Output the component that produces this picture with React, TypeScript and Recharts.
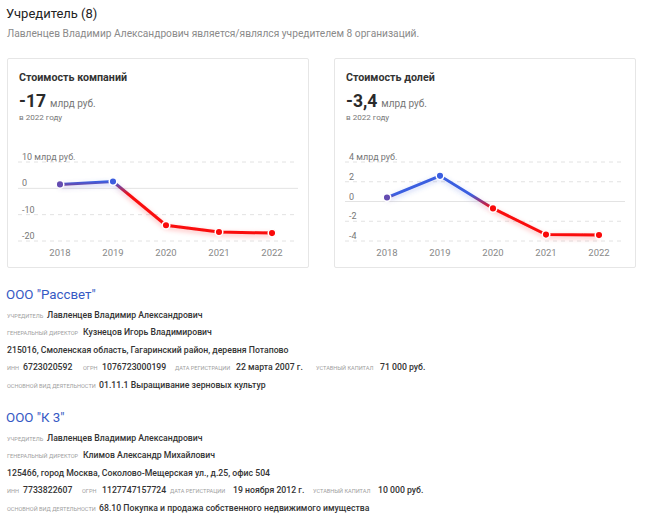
import React from 'react';
import { LineChart, Line, XAxis, YAxis, ReferenceLine } from 'recharts';

const years = ['2018', '2019', '2020', '2021', '2022'];
const companyValues = [1.5, 2.6, -14, -16.6, -17];
const shareValues = [0.4, 2.6, -0.7, -3.35, -3.4];
const companyTicks = [-20, -10, 0, 10];
const shareTicks = [-4, -2, 0, 2, 4];

const companyRows1 = [
  ['учредитель', 'Лавленцев Владимир Александрович'],
  ['генеральный директор', 'Кузнецов Игорь Владимирович'],
  ['', '215016, Смоленская область, Гагаринский район, деревня Потапово'],
  ['основной вид деятельности', '01.11.1 Выращивание зерновых культур'],
];
const companyIds1 = [
  ['инн', '6723020592'],
  ['огрн', '1076723000199'],
  ['дата регистрации', '22 марта 2007 г.'],
  ['уставный капитал', '71 000 руб.'],
];
const companyRows2 = [
  ['учредитель', 'Лавленцев Владимир Александрович'],
  ['генеральный директор', 'Климов Александр Михайлович'],
  ['', '125466, город Москва, Соколово-Мещерская ул., д.25, офис 504'],
  ['основной вид деятельности', '68.10 Покупка и продажа собственного недвижимого имущества'],
];
const companyIds2 = [
  ['инн', '7733822607'],
  ['огрн', '1127747157724'],
  ['дата регистрации', '19 ноября 2012 г.'],
  ['уставный капитал', '10 000 руб.'],
];

const FONT = 'Roboto, "Noto Sans", sans-serif';
const BLUE = [58, 94, 224];
const RED = [250, 10, 10];
const PLOT_H = 79;
const BLEND = 7;

function mix(t: number) {
  const c = BLUE.map((b, i) => Math.round(b + (RED[i] - b) * t));
  return `rgb(${c[0]},${c[1]},${c[2]})`;
}

function T({ x, y, size, color = '#333', weight = 400, h = 16, children, upper }: any) {
  return (
    <div
      style={{
        position: 'absolute', left: x, top: y - h / 2, height: h, lineHeight: `${h}px`,
        fontSize: size, color, fontWeight: weight, whiteSpace: 'nowrap',
        textTransform: upper ? 'uppercase' : 'none',
      }}
    >
      {children}
    </div>
  );
}

function MiniChart({ id, values, ticks, topLabel }: any) {
  const data = years.map((year, i) => ({ year, v: values[i] }));
  const min = ticks[0];
  const max = ticks[ticks.length - 1];
  const px = PLOT_H / (max - min);
  const vMax = Math.max(...values);
  const vMin = Math.min(...values);
  const boxH = (vMax - vMin) * px;
  const off0 = vMax / (vMax - vMin);
  const half = BLEND / boxH;
  const s1 = Math.max(0, off0 - half);
  const s2 = Math.min(1, off0 + half);

  const Dot = (p: any) => {
    if (p.cx == null) return null;
    const d = p.payload.v * px;
    const t = Math.max(0, Math.min(1, (BLEND - d) / (2 * BLEND)));
    return <circle key={p.index} cx={p.cx} cy={p.cy} r={3.8} fill={mix(t)} stroke="#fff" strokeWidth={1.5} />;
  };

  return (
    <LineChart width={302} height={128} data={data} margin={{ top: 22, right: 11, left: 11, bottom: 0 }}>
      <defs>
        <linearGradient id={`g${id}`} x1="0" y1="0" x2="0" y2="1">
          <stop offset={s1} stopColor={mix(0)} />
          <stop offset={s2} stopColor={mix(1)} />
        </linearGradient>
        <filter id={`f${id}`} x="-20%" y="-60%" width="140%" height="220%">
          <feGaussianBlur in="SourceGraphic" stdDeviation="2.5" result="b" />
          <feOffset in="b" dy="2" result="o" />
          <feColorMatrix in="o" type="matrix" values="1 0 0 0 0  0 1 0 0 0  0 0 1 0 0  0 0 0 0.3 0" result="s" />
          <feMerge>
            <feMergeNode in="s" />
            <feMergeNode in="SourceGraphic" />
          </feMerge>
        </filter>
      </defs>
      <XAxis
        dataKey="year" axisLine={false} tickLine={false} height={27}
        padding={{ left: 42, right: 26 }}
        tick={{ fontSize: 9.5, fill: '#888', fontFamily: FONT }}
      />
      <YAxis hide domain={[min, max]} ticks={ticks} />
      {ticks.map((t: number) => (
        <ReferenceLine
          key={t} y={t} stroke={t === 0 ? '#e3e3e3' : '#e2e2e2'}
          strokeDasharray={t === 0 ? undefined : '4 4'}
          label={(lp: any) => (
            <text x={lp.viewBox.x + 4} y={lp.viewBox.y - 2} fontSize={9} fill="#777" fontFamily={FONT}>
              {t === max ? topLabel : String(t)}
            </text>
          )}
        />
      ))}
      <Line
        dataKey="v" type="linear" stroke={`url(#g${id})`} strokeWidth={3}
        filter={`url(#f${id})`} dot={Dot} activeDot={false} isAnimationActive={false}
      />
    </LineChart>
  );
}

function Card({ x, title, big, id, values, ticks, topLabel }: any) {
  return (
    <>
      <div style={{ position: 'absolute', left: x, top: 58, width: 300, height: 208, border: '1px solid #e6e6e6', borderRadius: 2, background: '#fff' }} />
      <T x={x + 12} y={78} size={10.7} weight={700} color="#333">{title}</T>
      <T x={x + 12} y={101} size={17.5} weight={700} color="#2a2a2a" h={24}>
        {big}
        <span style={{ fontSize: 10, fontWeight: 400, color: '#777', marginLeft: 4 }}>млрд руб.</span>
      </T>
      <T x={x + 12} y={117} size={8.1} color="#777">в 2022 году</T>
      <div style={{ position: 'absolute', left: x, top: 140 }}>
        <MiniChart id={id} values={values} ticks={ticks} topLabel={topLabel} />
      </div>
    </>
  );
}

function Company({ y0, name, rows, ids, idX, valX }: any) {
  const ys = [y0 + 20, y0 + 37, y0 + 55, y0 + 90];
  return (
    <>
      <T x={6} y={y0} size={13.3} color="#3559c4" h={20}>{name}</T>
      {rows.map((r: string[], i: number) => (
        <React.Fragment key={i}>
          {r[0] && <T x={7} y={ys[i] + 0.5} size={5.6} color="#a0a0a0" upper>{r[0]}</T>}
          <T x={valX[i]} y={ys[i]} size={8.7} weight={500} color="#333">{r[1]}</T>
        </React.Fragment>
      ))}
      {ids.map((r: string[], i: number) => (
        <React.Fragment key={'id' + i}>
          <T x={idX[i][0]} y={y0 + 72.5} size={5.6} color="#a0a0a0" upper>{r[0]}</T>
          <T x={idX[i][1]} y={y0 + 72} size={8.7} weight={500} color="#333">{r[1]}</T>
        </React.Fragment>
      ))}
    </>
  );
}

export default function App() {
  return (
    <div style={{ position: 'fixed', left: 0, top: 0, width: 646, height: 523, background: '#fff', fontFamily: FONT, overflow: 'hidden' }}>
      <T x={6} y={14} size={13} color="#222" h={22}>Учредитель (8)</T>
      <T x={7} y={34} size={10.2} color="#8a8a8a">Лавленцев Владимир Александрович является/являлся учредителем 8 организаций.</T>
      <Card x={7} id="c" title="Стоимость компаний" big="-17" values={companyValues} ticks={companyTicks} topLabel="10 млрд руб." />
      <Card x={334} id="s" title="Стоимость долей" big="-3,4" values={shareValues} ticks={shareTicks} topLabel="4 млрд руб." />
      <Company
        y0={295} name={'ООО "Рассвет"'} rows={companyRows1} ids={companyIds1}
        valX={[47, 83, 7, 99]} idX={[[7, 23], [83, 102], [175, 236], [316, 380]]}
      />
      <Company
        y0={418} name={'ООО "К 3"'} rows={companyRows2} ids={companyIds2}
        valX={[47, 83, 7, 99]} idX={[[7, 23], [82, 102], [170, 233], [313, 378]]}
      />
    </div>
  );
}
